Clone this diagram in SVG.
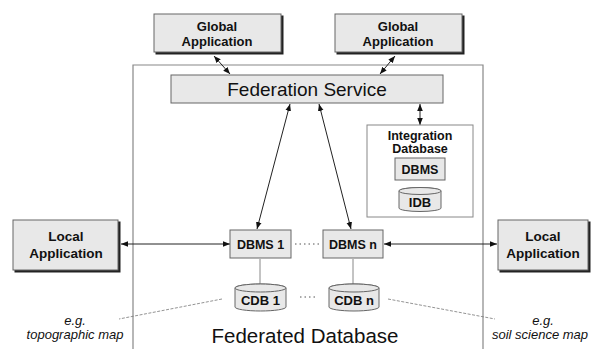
<svg xmlns="http://www.w3.org/2000/svg" width="593" height="349" viewBox="0 0 593 349">
<style>
.box{fill:#e8e8e8;stroke:#666;stroke-width:1}
.sh{fill:#222}
.t{font-family:"Liberation Sans",Arial,sans-serif;font-weight:bold;fill:#111;text-anchor:middle}
.n{font-family:"Liberation Sans",Arial,sans-serif;fill:#111;text-anchor:middle}
.i{font-family:"Liberation Sans",Arial,sans-serif;font-style:italic;fill:#111;text-anchor:middle;font-size:13px}
.c{stroke:#222;stroke-width:1;fill:none}
.cl{stroke:#888;stroke-width:1;fill:none}
.dash{stroke:#777;stroke-width:0.8;stroke-dasharray:3 1.5;fill:none}
.dots{stroke:#555;stroke-width:1;stroke-dasharray:1.5 3;fill:none}
</style>
<defs>
<marker id="ah" viewBox="0 0 10 10" refX="10" refY="5" markerWidth="7" markerHeight="7" orient="auto-start-reverse" markerUnits="userSpaceOnUse">
<path d="M0,1 L10,5 L0,9 z" fill="#111"/>
</marker>
</defs>
<rect width="593" height="349" fill="#fff"/>

<g id="federated-database">
<path d="M133,349 V65 H483 V349" fill="none" stroke="#888" stroke-width="1.2"/>
<text class="n" x="305" y="343" font-size="20.5">Federated Database</text>
</g>

<g id="connectors">
<line class="c" x1="214" y1="56" x2="230" y2="74" marker-start="url(#ah)" marker-end="url(#ah)"/>
<line class="c" x1="395" y1="56" x2="380" y2="74" marker-start="url(#ah)" marker-end="url(#ah)"/>
<line class="c" x1="420" y1="104" x2="420" y2="125" marker-start="url(#ah)" marker-end="url(#ah)"/>
<line class="c" x1="290" y1="104" x2="257" y2="229" marker-start="url(#ah)" marker-end="url(#ah)"/>
<line class="c" x1="319" y1="104" x2="351" y2="229" marker-start="url(#ah)" marker-end="url(#ah)"/>
<line class="c" stroke-width="1.4" x1="121" y1="244" x2="230" y2="244" marker-start="url(#ah)" marker-end="url(#ah)"/>
<line class="c" stroke-width="1.4" x1="384" y1="244" x2="497" y2="244" marker-start="url(#ah)" marker-end="url(#ah)"/>
<line class="cl" x1="420" y1="181" x2="420" y2="189"/>
<line class="cl" x1="260" y1="259" x2="260" y2="285"/>
<line class="cl" x1="353" y1="259" x2="353" y2="285"/>
<line class="dots" x1="295" y1="244" x2="319" y2="244"/>
<line class="dots" x1="300" y1="297" x2="318" y2="297"/>
<line class="dash" x1="222" y1="299" x2="119" y2="319"/>
<line class="dash" x1="388" y1="299" x2="495" y2="319"/>
</g>

<g id="global-app-1">
<rect class="sh" x="155.5" y="15.5" width="128" height="39"/>
<rect class="box" x="154" y="14" width="127" height="38"/>
<text class="t" x="217" y="31" font-size="13">Global</text>
<text class="t" x="217" y="46" font-size="13">Application</text>
</g>
<g id="global-app-2">
<rect class="sh" x="336.5" y="15.5" width="128" height="39"/>
<rect class="box" x="335" y="14" width="127" height="38"/>
<text class="t" x="398" y="31" font-size="13">Global</text>
<text class="t" x="398" y="46" font-size="13">Application</text>
</g>

<g id="federation-service">
<rect class="box" x="171" y="75" width="272" height="28" stroke="#999"/>
<text class="n" x="307" y="96" font-size="19">Federation Service</text>
</g>

<g id="integration-database">
<rect x="367" y="125" width="106" height="92" fill="#fff" stroke="#888"/>
<text class="t" x="420" y="139.5" font-size="12.5">Integration</text>
<text class="t" x="420" y="153" font-size="12.5">Database</text>
<rect class="box" x="395" y="158" width="50" height="22"/>
<text class="t" x="420" y="174" font-size="12.5">DBMS</text>
<path class="box" d="M399,191 V208 A21,3.5 0 0 0 441,208 V191 A21,3.5 0 0 0 399,191 Z"/>
<ellipse cx="420" cy="191" rx="21" ry="3.5" fill="#e8e8e8" stroke="#666"/>
<text class="t" x="420" y="207" font-size="13">IDB</text>
</g>

<g id="local-app-1">
<rect class="sh" x="14.5" y="221.5" width="106" height="51"/>
<rect class="box" x="13" y="220" width="105" height="50"/>
<text class="t" x="66" y="241" font-size="13.5">Local</text>
<text class="t" x="66" y="258" font-size="13.5">Application</text>
</g>
<g id="local-app-2">
<rect class="sh" x="499.5" y="221.5" width="91" height="51"/>
<rect class="box" x="498" y="220" width="90" height="50"/>
<text class="t" x="543" y="241" font-size="13.5">Local</text>
<text class="t" x="543" y="258" font-size="13.5">Application</text>
</g>

<g id="dbms-1">
<rect class="box" x="230" y="230" width="61" height="28"/>
<text class="t" x="260.5" y="249" font-size="12.5">DBMS 1</text>
</g>
<g id="dbms-n">
<rect class="box" x="323" y="230" width="60" height="28"/>
<text class="t" x="353" y="249" font-size="12.5">DBMS n</text>
</g>

<g id="cdb-1">
<path class="box" d="M235,288 V307 A25.5,4 0 0 0 286,307 V288 A25.5,4 0 0 0 235,288 Z"/>
<ellipse cx="260.5" cy="288" rx="25.5" ry="4" fill="#e8e8e8" stroke="#666"/>
<text class="t" x="260.5" y="305" font-size="13">CDB 1</text>
</g>
<g id="cdb-n">
<path class="box" d="M329,288 V307 A25,4 0 0 0 379,307 V288 A25,4 0 0 0 329,288 Z"/>
<ellipse cx="354" cy="288" rx="25" ry="4" fill="#e8e8e8" stroke="#666"/>
<text class="t" x="354" y="305" font-size="13">CDB n</text>
</g>

<g id="label-left">
<text class="i" x="75" y="325">e.g.</text>
<text class="i" x="75" y="339">topographic map</text>
</g>
<g id="label-right">
<text class="i" x="543" y="325">e.g.</text>
<text class="i" x="540" y="339">soil science map</text>
</g>
</svg>
